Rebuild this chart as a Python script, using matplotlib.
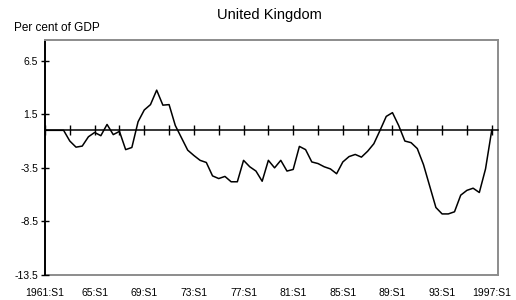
import matplotlib
matplotlib.use("Agg")
from matplotlib import pyplot as plt
import numpy as np

plt.rcParams["font.family"] = ["Liberation Sans", "DejaVu Sans"]

# semi-annual periods, 1961:S1 .. 1997:S1
periods = [f"{y}:S{h}" for y in range(1961, 1998) for h in (1, 2)][:73]

# per cent of GDP
values = [
    0.0, 0.0, 0.0, 0.0, -1.0, -1.57, -1.47, -0.6, -0.2, -0.5,
    0.55, -0.4, -0.1, -1.8, -1.6, 0.8, 1.9, 2.4, 3.75, 2.35,
    2.4, 0.45, -0.7, -1.85, -2.35, -2.8, -3.0, -4.25, -4.5, -4.3,
    -4.8, -4.8, -2.8, -3.4, -3.8, -4.75, -2.8, -3.5, -2.8, -3.8,
    -3.65, -1.5, -1.8, -2.95, -3.1, -3.4, -3.6, -4.05, -2.95, -2.45,
    -2.25, -2.5, -1.95, -1.25, 0.0, 1.3, 1.65, 0.45, -1.0, -1.15,
    -1.7, -3.2, -5.2, -7.2, -7.8, -7.8, -7.6, -6.05, -5.6, -5.4,
    -5.8, -3.6, 0.0,
]

label_idx = list(range(0, 73, 8))
label_text = ["1961:S1", "65:S1", "69:S1", "73:S1", "77:S1", "81:S1",
              "85:S1", "89:S1", "93:S1", "1997:S1"]
y_ticks = [6.5, 1.5, -3.5, -8.5, -13.5]

fig = plt.figure(figsize=(5.16, 3.0), dpi=100)
ax = fig.add_axes([0.0872, 0.0833, 0.8778, 0.7834])

x = np.arange(len(values))
ax.plot(x, values, color="black", lw=1.1, zorder=3)

ax.set_xlim(0, 73)
ax.set_ylim(-13.5, 8.43)

# x axis crosses at zero with cross ticks every two years
ax.spines["bottom"].set_position(("data", 0))
ax.spines["bottom"].set_color("black")
ax.spines["bottom"].set_linewidth(1.1)
ax.set_xticks(range(0, 73, 4))
ax.tick_params(axis="x", direction="inout", length=7, width=1.0,
               labelbottom=False)

ax.set_yticks(y_ticks)
ax.set_yticklabels([str(v) for v in y_ticks])
ax.tick_params(axis="y", direction="inout", length=6, width=1.0,
               labelsize=7.5, pad=2)
ax.spines["left"].set_linewidth(1.4)
for s in ("top", "right"):
    ax.spines[s].set_color("#8c8c8c")
    ax.spines[s].set_linewidth(1.4)

sec = ax.secondary_xaxis("bottom")
sec.set_xticks(label_idx)
sec.set_xticklabels(label_text)
sec.tick_params(length=0, labelsize=7.5, pad=9)
sec.spines["bottom"].set_color("#8c8c8c")
sec.spines["bottom"].set_linewidth(1.4)

fig.text(0.523, 0.95, "United Kingdom", ha="center", va="center", fontsize=10.5)
fig.text(0.027, 0.907, "Per cent of GDP", ha="left", va="center", fontsize=8.5)

fig.savefig("out.png", dpi=100)
